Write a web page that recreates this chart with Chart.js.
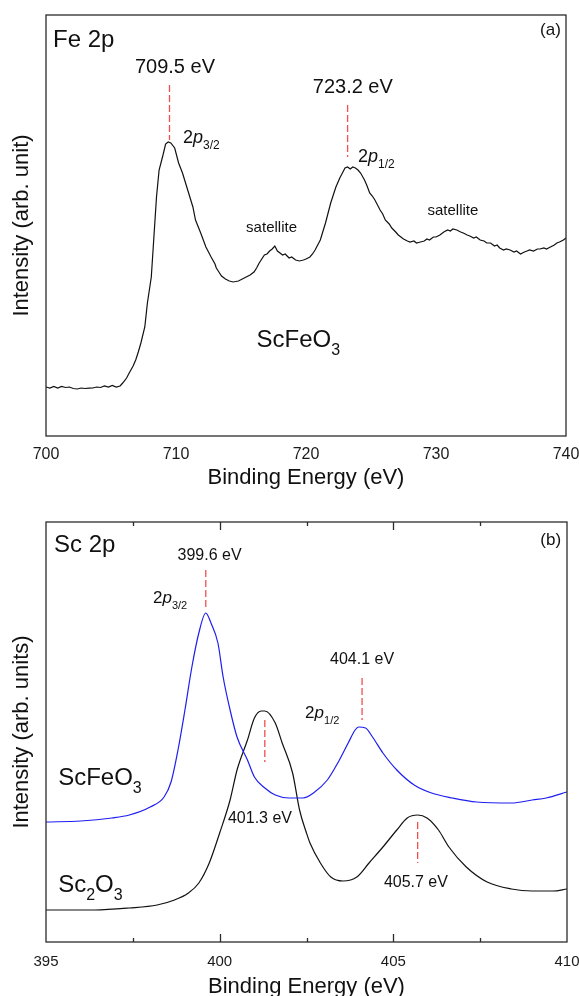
<!DOCTYPE html>
<html>
<head>
<meta charset="utf-8">
<script src="https://cdn.jsdelivr.net/npm/chart.js@4.4.0/dist/chart.umd.min.js"></script>
<style>
  html, body { margin: 0; padding: 0; background: #fff; overflow: hidden; }
  #wrapA { position: absolute; left: 0; top: 0; width: 579px; height: 500px; }
  #wrapB { position: absolute; left: 0; top: 500px; width: 579px; height: 520px; }
</style>
</head>
<body>
<div id="wrapA"><canvas id="chartA" width="579" height="500"></canvas></div>
<div id="wrapB"><canvas id="chartB" width="579" height="520"></canvas></div>
<script>
// ---- panel (a): Fe 2p ----
const feEnergy = [
  700.0, 700.3, 700.6, 700.9, 701.2, 701.5, 701.8, 702.1, 702.4, 702.7, 703.0, 703.3, 703.6, 703.9,
  704.2, 704.5, 704.8, 705.1, 705.4, 705.7, 705.9, 706.2, 706.4, 706.7, 706.9, 707.1, 707.3, 707.6,
  707.8, 708.1, 708.3, 708.5, 708.7, 709.0, 709.2, 709.4, 709.6, 709.9, 710.2, 710.5, 710.9, 711.3,
  711.5, 711.9, 712.3, 712.7, 713.0, 713.1, 713.3, 713.5, 713.8, 714.1, 714.4, 714.8, 715.1, 715.4,
  715.7, 716.0, 716.2, 716.4, 716.8, 717.0, 717.2, 717.4, 717.6, 717.8, 718.0, 718.2, 718.4, 718.7,
  718.9, 719.2, 719.5, 719.8, 720.0, 720.3, 720.5, 720.7, 721.1, 721.5, 721.9, 722.3, 722.6, 722.8,
  723.0, 723.2, 723.4, 723.6, 723.8, 724.0, 724.2, 724.5, 724.7, 724.9, 725.1, 725.3, 725.5, 725.7,
  725.9, 726.1, 726.4, 726.6, 726.9, 727.1, 727.3, 727.5, 727.8, 728.0, 728.3, 728.5, 728.8, 729.1,
  729.3, 729.5, 729.8, 730.0, 730.3, 730.6, 730.9, 731.1, 731.3, 731.6, 731.9, 732.1, 732.4, 732.6,
  732.9, 733.1, 733.4, 733.7, 733.9, 734.2, 734.5, 734.7, 734.9, 735.2, 735.4, 735.7, 736.0, 736.2,
  736.5, 736.8, 737.0, 737.2, 737.5, 737.8, 738.0, 738.3, 738.5, 738.8, 739.1, 739.3, 739.5, 739.8,
  740.0
];
const feIntensity = [
  49, 48, 49.5, 48, 49.5, 48.5, 49, 47.5, 47, 48, 47.5, 47.8, 48, 49,
  48.5, 50, 49, 50.5, 49, 50, 53, 58, 63, 70, 76, 84, 93, 109,
  133, 159, 199, 239, 266, 281, 292, 294, 293, 288, 273, 263, 246, 229,
  216, 203, 189, 179, 172, 168, 164, 160, 157, 155, 154, 155, 157, 159,
  161, 164, 168, 173, 181, 182, 185, 187, 190, 185, 183, 181, 182, 178,
  179, 176, 175, 176, 177, 179, 182, 186, 196, 213, 233, 249, 258, 263,
  268, 269, 267, 269, 268, 266, 263, 256, 250, 243, 240, 236, 231, 226,
  222, 216, 212, 208, 204, 201, 199, 197, 195, 194, 195, 193, 194, 195,
  197, 196, 199, 199, 201, 204, 206, 205, 207, 206, 204, 203, 201, 200,
  198, 199, 196, 195, 193, 193, 190, 191, 188, 186, 187, 186, 184, 185,
  182, 184, 185, 186, 185, 187, 187, 188, 187, 189, 191, 193, 194, 196,
  198
];
const feTicks = [700, 710, 720, 730, 740];
const fePeakEnergy = [709.5, 723.2];
const fePeakMarkTop = [351, 331];
const fePeakMarkBottom = [296, 279];

// ---- panel (b): Sc 2p ----
const scFeEnergy = [
  395.0, 396.0, 396.9, 397.4, 398.0, 398.4, 398.6, 398.8, 399.0, 399.2, 399.4, 399.6, 399.75, 399.95,
  400.1, 400.3, 400.5, 400.8, 401.0, 401.3, 401.6, 402.0, 402.4, 402.7, 403.1, 403.4, 403.7, 403.9,
  404.0, 404.2, 404.4, 404.7, 405.1, 405.6, 406.1, 406.7, 407.4, 408.4, 409.0, 409.4, 410.0
];
const scFeIntensity = [
  120, 121, 124, 127, 135, 145, 160, 192, 232, 275, 309, 329, 319, 299,
  265, 232, 205, 182, 165, 154, 147, 144, 144, 149, 162, 179, 199, 212,
  215, 214, 205, 189, 172, 157, 149, 144, 140, 139, 142, 144, 150
];
const sc2o3Energy = [
  395.0, 396.4, 397.4, 398.2, 398.7, 399.1, 399.4, 399.7, 400.0, 400.3, 400.5, 400.8, 401.0, 401.2,
  401.3, 401.6, 401.8, 402.1, 402.3, 402.5, 402.6, 402.9, 403.2, 403.55, 403.95, 404.3, 404.7, 405.1,
  405.4, 405.7, 405.97, 406.3, 406.6, 407.1, 407.7, 408.4, 409.0, 409.6, 410.0
];
const sc2o3Intensity = [
  32, 32, 34, 37, 42, 49, 59, 79, 109, 142, 172, 202, 224, 231,
  231, 219, 199, 169, 132, 109, 99, 79, 65, 61, 65, 79, 95, 112,
  124, 127, 124, 112, 95, 75, 60, 53, 51, 51, 53
];
const scTicks = [395, 400, 405, 410];
const scMinorTicks = [397.5, 402.5, 407.5];
const scPeakEnergy = [399.6, 404.1, 401.3, 405.7];
const scPeakMarkTop = [372, 264, 222, 120];
const scPeakMarkBottom = [332, 222, 180, 79];

const FONT = '"Liberation Sans", Arial, sans-serif';
const MARK_COLOR = 'rgb(240, 80, 80)';

function toPoints(xs, ys) {
  return xs.map((x, i) => ({ x: x, y: ys[i] }));
}

function markerSets(es, tops, bottoms) {
  return es.map((e, i) => ({
    data: [{ x: e, y: tops[i] }, { x: e, y: bottoms[i] }],
    borderColor: MARK_COLOR,
    borderWidth: 1.3,
    borderDash: [7, 3],
    pointRadius: 0
  }));
}

// text with optional italic / subscript pieces
function drawRich(ctx, parts, x, y, size, align) {
  const fontFor = p => (p.it ? 'italic ' : '') + (p.sub ? Math.round(size * 0.65) : size) + 'px ' + FONT;
  let w = 0;
  parts.forEach(p => { ctx.font = fontFor(p); w += ctx.measureText(p.t).width; });
  let cx = align === 'center' ? x - w / 2 : (align === 'right' ? x - w : x);
  ctx.textAlign = 'left';
  ctx.textBaseline = 'alphabetic';
  parts.forEach(p => {
    ctx.font = fontFor(p);
    ctx.fillText(p.t, cx, y + (p.sub ? size * 0.33 : 0));
    cx += ctx.measureText(p.t).width;
  });
}

const decoPlugin = {
  id: 'deco',
  afterDatasetsDraw(chart, args, opts) {
    const ctx = chart.ctx;
    const area = chart.chartArea;
    const xs = chart.scales.x, ys = chart.scales.y;
    ctx.save();
    // frame
    ctx.strokeStyle = '#2b2b2b';
    ctx.lineWidth = 1.3;
    ctx.strokeRect(area.left, area.top, area.right - area.left, area.bottom - area.top);
    // inward tick marks
    const drawTicks = (vals, len) => {
      vals.forEach(v => {
        const px = Math.round(xs.getPixelForValue(v)) + 0.5;
        ctx.beginPath();
        ctx.moveTo(px, area.bottom); ctx.lineTo(px, area.bottom - len);
        ctx.moveTo(px, area.top); ctx.lineTo(px, area.top + len);
        ctx.stroke();
      });
    };
    if (opts.major) drawTicks(opts.major, 8);
    if (opts.minor) drawTicks(opts.minor, 4);
    // labels
    ctx.fillStyle = '#111';
    (opts.labels || []).forEach(l => {
      drawRich(ctx, l.parts, xs.getPixelForValue(l.x), ys.getPixelForValue(l.y), l.size, l.align);
    });
    ctx.restore();
  }
};

function makeChart(id, cfg) {
  return new Chart(document.getElementById(id), {
    type: 'line',
    data: { datasets: cfg.datasets },
    options: {
      responsive: false,
      animation: false,
      events: [],
      layout: { padding: { left: 0, top: cfg.padTop, right: cfg.padRight, bottom: 0 } },
      plugins: { legend: { display: false }, tooltip: { enabled: false }, deco: cfg.deco },
      scales: {
        x: {
          type: 'linear', min: cfg.xMin, max: cfg.xMax,
          afterBuildTicks: s => { s.ticks = cfg.ticks.map(v => ({ value: v })); },
          afterFit: s => { s.height = cfg.xHeight; s.paddingLeft = 0; s.paddingRight = 0; },
          grid: { display: false, drawTicks: false },
          border: { display: false },
          ticks: { padding: cfg.tickPad, color: '#1a1a1a', maxRotation: 0, font: { size: cfg.tickSize, family: FONT } },
          title: { display: true, text: 'Binding Energy (eV)', color: '#111',
                   font: { size: 22, family: FONT }, padding: { top: 0, bottom: cfg.titlePad } }
        },
        y: {
          type: 'linear', min: 0, max: cfg.yMax,
          afterFit: s => { s.width = 46; s.paddingTop = 0; s.paddingBottom = 0; },
          grid: { display: false, drawTicks: false },
          border: { display: false },
          ticks: { display: false },
          title: { display: true, text: cfg.yTitle, color: '#111',
                   font: { size: 22, family: FONT }, padding: { top: 9, bottom: 0 } }
        }
      }
    },
    plugins: [decoPlugin]
  });
}

makeChart('chartA', {
  datasets: [
    { data: toPoints(feEnergy, feIntensity), borderColor: '#111', borderWidth: 1.2, pointRadius: 0, tension: 0 }
  ].concat(markerSets(fePeakEnergy, fePeakMarkTop, fePeakMarkBottom)),
  padTop: 15, padRight: 13, xMin: 700, xMax: 740, ticks: feTicks,
  xHeight: 64, tickPad: 9, tickSize: 16, titlePad: 9, yMax: 421,
  yTitle: 'Intensity (arb. unit)',
  deco: {
    labels: [
      { parts: [{ t: 'Fe 2p' }], x: 700.54, y: 389, size: 24 },
      { parts: [{ t: '(a)' }], x: 739.6, y: 401, size: 17, align: 'right' },
      { parts: [{ t: '709.5 eV' }], x: 709.92, y: 363, size: 20, align: 'center' },
      { parts: [{ t: '723.2 eV' }], x: 723.6, y: 343, size: 20, align: 'center' },
      { parts: [{ t: '2' }, { t: 'p', it: 1 }, { t: '3/2', sub: 1 }], x: 710.54, y: 293, size: 18 },
      { parts: [{ t: '2' }, { t: 'p', it: 1 }, { t: '1/2', sub: 1 }], x: 724.0, y: 274, size: 18 },
      { parts: [{ t: 'satellite' }], x: 717.35, y: 204, size: 15, align: 'center' },
      { parts: [{ t: 'satellite' }], x: 731.3, y: 221, size: 15, align: 'center' },
      { parts: [{ t: 'ScFeO' }, { t: '3', sub: 1 }], x: 716.2, y: 89, size: 24 }
    ]
  }
});

makeChart('chartB', {
  datasets: [
    { data: toPoints(scFeEnergy, scFeIntensity), borderColor: 'rgb(30, 30, 240)', borderWidth: 1.2,
      pointRadius: 0, cubicInterpolationMode: 'monotone' },
    { data: toPoints(sc2o3Energy, sc2o3Intensity), borderColor: '#111', borderWidth: 1.2,
      pointRadius: 0, cubicInterpolationMode: 'monotone' }
  ].concat(markerSets(scPeakEnergy, scPeakMarkTop, scPeakMarkBottom)),
  padTop: 22, padRight: 12, xMin: 395, xMax: 410, ticks: scTicks,
  xHeight: 78, tickPad: 11, tickSize: 15, titlePad: 20, yMax: 420,
  yTitle: 'Intensity (arb. units)',
  deco: {
    major: [400, 405],
    minor: scMinorTicks,
    labels: [
      { parts: [{ t: 'Sc 2p' }], x: 395.23, y: 390, size: 24 },
      { parts: [{ t: '(b)' }], x: 409.83, y: 397, size: 17, align: 'right' },
      { parts: [{ t: '399.6 eV' }], x: 399.71, y: 382, size: 16, align: 'center' },
      { parts: [{ t: '2' }, { t: 'p', it: 1 }, { t: '3/2', sub: 1 }], x: 398.08, y: 339, size: 17 },
      { parts: [{ t: '2' }, { t: 'p', it: 1 }, { t: '1/2', sub: 1 }], x: 402.46, y: 224, size: 17 },
      { parts: [{ t: '404.1 eV' }], x: 404.1, y: 278, size: 16, align: 'center' },
      { parts: [{ t: '401.3 eV' }], x: 401.16, y: 119, size: 16, align: 'center' },
      { parts: [{ t: '405.7 eV' }], x: 405.65, y: 55, size: 16, align: 'center' },
      { parts: [{ t: 'ScFeO' }, { t: '3', sub: 1 }], x: 395.35, y: 157, size: 24 },
      { parts: [{ t: 'Sc' }, { t: '2', sub: 1 }, { t: 'O' }, { t: '3', sub: 1 }], x: 395.35, y: 50, size: 24 }
    ]
  }
});
</script>
</body>
</html>
